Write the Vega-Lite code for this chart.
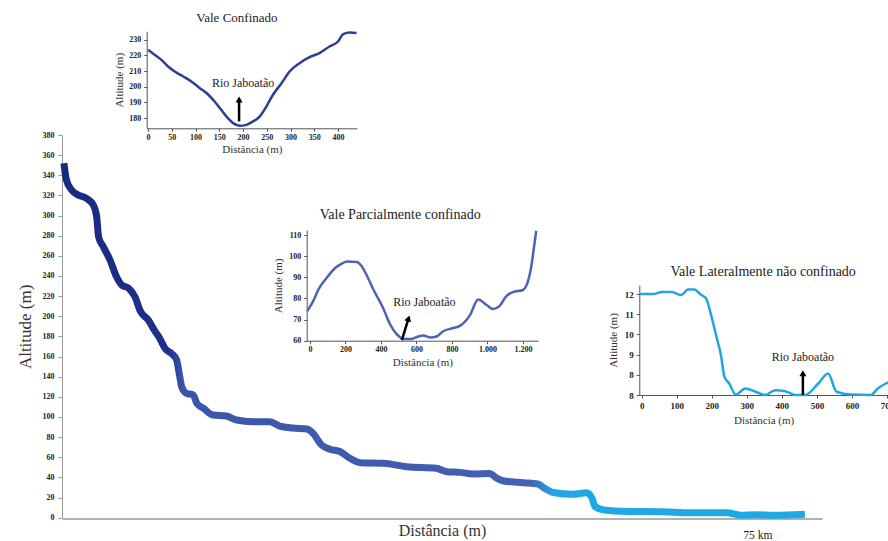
{
  "$schema": "https://vega.github.io/schema/vega-lite/v6.json",
  "width": 888,
  "height": 541,
  "autosize": {"type": "none"},
  "padding": 0,
  "background": "white",
  "config": {
    "view": {"stroke": null},
    "font": "Liberation Serif",
    "axis": {"grid": false, "labelOverlap": false, "labelFont": "Liberation Serif", "titleFont": "Liberation Serif", "labelFontWeight": "bold", "titleFontWeight": "normal", "labelColor": "#222", "titleColor": "#333"}
  },
  "datasets": {
    "perfil": [
      {"km": 0.2, "alt": 352}, {"km": 0.45, "alt": 336}, {"km": 1.0, "alt": 325.5}, {"km": 1.7, "alt": 320.5},
      {"km": 2.6, "alt": 317}, {"km": 3.3, "alt": 310.5}, {"km": 3.65, "alt": 299}, {"km": 3.85, "alt": 279},
      {"km": 4.35, "alt": 269}, {"km": 5.05, "alt": 256}, {"km": 5.75, "alt": 239}, {"km": 6.3, "alt": 231},
      {"km": 7.0, "alt": 228}, {"km": 7.7, "alt": 219}, {"km": 8.2, "alt": 206}, {"km": 9.1, "alt": 196},
      {"km": 9.8, "alt": 185}, {"km": 10.3, "alt": 178}, {"km": 10.85, "alt": 168}, {"km": 11.55, "alt": 163},
      {"km": 12.05, "alt": 157}, {"km": 12.4, "alt": 140}, {"km": 12.6, "alt": 130}, {"km": 13.1, "alt": 123.5},
      {"km": 13.8, "alt": 122}, {"km": 14.2, "alt": 113.5}, {"km": 14.9, "alt": 108.5}, {"km": 15.9, "alt": 102},
      {"km": 17.3, "alt": 101}, {"km": 18.4, "alt": 97}, {"km": 20.1, "alt": 95.3}, {"km": 21.9, "alt": 95.3},
      {"km": 22.9, "alt": 91}, {"km": 24.3, "alt": 89}, {"km": 25.8, "alt": 88}, {"km": 26.4, "alt": 84},
      {"km": 27.3, "alt": 72.5}, {"km": 28.2, "alt": 68}, {"km": 29.3, "alt": 65.5}, {"km": 30.3, "alt": 59},
      {"km": 31.4, "alt": 54.6}, {"km": 33.8, "alt": 54}, {"km": 36.3, "alt": 50.6}, {"km": 39.4, "alt": 49},
      {"km": 40.5, "alt": 45.7}, {"km": 41.9, "alt": 45}, {"km": 43.3, "alt": 43.4}, {"km": 45.0, "alt": 44},
      {"km": 45.8, "alt": 39}, {"km": 46.5, "alt": 36.4}, {"km": 48.6, "alt": 34.8}, {"km": 50.1, "alt": 33.5},
      {"km": 50.8, "alt": 29.2}, {"km": 51.7, "alt": 25}, {"km": 53.8, "alt": 23.2}, {"km": 55.2, "alt": 24.8},
      {"km": 55.8, "alt": 19.3}, {"km": 56.1, "alt": 11}, {"km": 57.0, "alt": 7.8}, {"km": 58.7, "alt": 6.5},
      {"km": 63.3, "alt": 6}, {"km": 66.1, "alt": 5}, {"km": 70.0, "alt": 5}, {"km": 71.4, "alt": 2.5},
      {"km": 73.1, "alt": 3}, {"km": 74.9, "alt": 2.5}, {"km": 78.2, "alt": 3.5}
    ],
    "confinado": [
      {"dist": 0, "alt": 223.6}, {"dist": 14, "alt": 220.4}, {"dist": 28, "alt": 217.2}, {"dist": 42, "alt": 213},
      {"dist": 56, "alt": 209.8}, {"dist": 74, "alt": 206.6}, {"dist": 91, "alt": 203.4}, {"dist": 109, "alt": 199.1},
      {"dist": 123, "alt": 196}, {"dist": 140, "alt": 190.6}, {"dist": 154, "alt": 185.3}, {"dist": 168, "alt": 180},
      {"dist": 179, "alt": 176.8}, {"dist": 193, "alt": 175.1}, {"dist": 207, "alt": 175.7}, {"dist": 221, "alt": 177.9},
      {"dist": 235, "alt": 181}, {"dist": 249, "alt": 187.4}, {"dist": 263, "alt": 194.9}, {"dist": 281, "alt": 202.3},
      {"dist": 298, "alt": 209.8}, {"dist": 319, "alt": 215.1}, {"dist": 340, "alt": 218.9}, {"dist": 361, "alt": 221.5},
      {"dist": 382, "alt": 225.7}, {"dist": 400, "alt": 228.9}, {"dist": 411, "alt": 233.7}, {"dist": 425, "alt": 234.7},
      {"dist": 439, "alt": 234.3}
    ],
    "parcial": [
      {"dist": -15, "alt": 74}, {"dist": 20, "alt": 79}, {"dist": 50, "alt": 84.5}, {"dist": 97, "alt": 90},
      {"dist": 144, "alt": 94.5}, {"dist": 180, "alt": 96.5}, {"dist": 209, "alt": 97.5}, {"dist": 265, "alt": 97.3},
      {"dist": 290, "alt": 95.5}, {"dist": 320, "alt": 91}, {"dist": 359, "alt": 84}, {"dist": 415, "alt": 75},
      {"dist": 450, "alt": 68}, {"dist": 490, "alt": 63}, {"dist": 530, "alt": 60.8}, {"dist": 570, "alt": 60.8},
      {"dist": 610, "alt": 62}, {"dist": 640, "alt": 62.5}, {"dist": 677, "alt": 61.5}, {"dist": 714, "alt": 62},
      {"dist": 751, "alt": 64.5}, {"dist": 807, "alt": 66}, {"dist": 845, "alt": 67}, {"dist": 901, "alt": 72},
      {"dist": 948, "alt": 79.5}, {"dist": 994, "alt": 77}, {"dist": 1032, "alt": 75}, {"dist": 1069, "alt": 76.5},
      {"dist": 1106, "alt": 81}, {"dist": 1144, "alt": 83}, {"dist": 1200, "alt": 84}, {"dist": 1219, "alt": 86},
      {"dist": 1247, "alt": 95}, {"dist": 1262, "alt": 104}, {"dist": 1275, "alt": 112}
    ],
    "lateral": [
      {"dist": -5, "alt": 12}, {"dist": 33, "alt": 12}, {"dist": 57, "alt": 12.1}, {"dist": 85, "alt": 12.1},
      {"dist": 113, "alt": 11.95}, {"dist": 132, "alt": 12.23}, {"dist": 150, "alt": 12.23}, {"dist": 170, "alt": 11.95},
      {"dist": 183, "alt": 11.8}, {"dist": 198, "alt": 10.96}, {"dist": 212, "alt": 9.97}, {"dist": 226, "alt": 8.98},
      {"dist": 236, "alt": 7.9}, {"dist": 250, "alt": 7.57}, {"dist": 268, "alt": 7.02}, {"dist": 296, "alt": 7.32},
      {"dist": 325, "alt": 7.16}, {"dist": 353, "alt": 7.0}, {"dist": 381, "alt": 7.24}, {"dist": 410, "alt": 7.19},
      {"dist": 438, "alt": 7.0}, {"dist": 466, "alt": 7.0}, {"dist": 504, "alt": 7.57}, {"dist": 532, "alt": 8.07},
      {"dist": 556, "alt": 7.16}, {"dist": 598, "alt": 7.02}, {"dist": 654, "alt": 7.0}, {"dist": 674, "alt": 7.32},
      {"dist": 697, "alt": 7.57}, {"dist": 703, "alt": 7.62}
    ],
    "setas": [
      {"painel": "confinado", "dist": 191.6, "alt": 177.9, "dist2": 191.6, "alt2": 191.9},
      {"painel": "parcial", "dist": 518, "alt": 60.3, "dist2": 555.8, "alt2": 70.6},
      {"painel": "lateral", "dist": 460, "alt": 7.0, "dist2": 460, "alt2": 8.08}
    ],
    "rotulos": [
      {"painel": "confinado", "tipo": "titulo", "dist": 187, "alt": 243.9, "texto": "Vale Confinado"},
      {"painel": "confinado", "tipo": "rio", "dist": 200, "alt": 202.3, "texto": "Rio Jaboatão"},
      {"painel": "parcial", "tipo": "titulo", "dist": 508.7, "alt": 119.5, "texto": "Vale Parcialmente confinado"},
      {"painel": "parcial", "tipo": "rio", "dist": 645, "alt": 78.5, "texto": "Rio Jaboatão"},
      {"painel": "lateral", "tipo": "titulo", "dist": 346.6, "alt": 13.1, "texto": "Vale Lateralmente não confinado"},
      {"painel": "lateral", "tipo": "rio", "dist": 460, "alt": 8.9, "texto": "Rio Jaboatão"}
    ]
  },
  "layer": [
    {
      "data": {"name": "perfil"},
      "mark": {
        "type": "line", "interpolate": "monotone", "strokeWidth": 7, "strokeCap": "butt", "strokeJoin": "round",
        "stroke": {"gradient": "linear", "x1": 0, "y1": 0, "x2": 1, "y2": 0, "stops": [
          {"offset": 0, "color": "#1a2a80"}, {"offset": 0.14, "color": "#1f2f8c"},
          {"offset": 0.16, "color": "#3a55aa"}, {"offset": 0.63, "color": "#4561b1"},
          {"offset": 0.66, "color": "#1ea8e4"}, {"offset": 1, "color": "#1ea8e4"}]}
      },
      "encoding": {
        "x": {"field": "km", "type": "quantitative",
          "scale": {"domain": [0, 80], "range": [62, 822], "nice": false, "zero": false},
          "axis": {"orient": "bottom", "offset": -22.5, "values": [73.2], "labelExpr": "'75 km'", "labelFontWeight": "normal", "labelFontSize": 11.5, "labelPadding": 11, "ticks": false, "title": "Distância (m)", "titleFontSize": 16, "titleY": 3.5, "domainColor": "#999", "domainWidth": 1.5}},
        "y": {"field": "alt", "type": "quantitative",
          "scale": {"domain": [0, 380], "range": [517.7, 135], "nice": false, "zero": false},
          "axis": {"orient": "left", "offset": -62, "values": [0, 20, 40, 60, 80, 100, 120, 140, 160, 180, 200, 220, 240, 260, 280, 300, 320, 340, 360, 380],
            "labelOverlap": false, "labelSeparation": -20, "format": "d", "title": "Altitude (m)", "titleFontSize": 17, "titlePadding": 8, "labelFontSize": 8, "tickSize": 4, "labelPadding": 4, "domainColor": "#999", "tickColor": "#999"}}
      }
    },
    {
      "layer": [
        {
          "data": {"name": "confinado"},
          "mark": {"type": "line", "interpolate": "monotone", "strokeWidth": 2.5, "color": "#2d3f94"},
          "encoding": {
            "x": {"field": "dist", "type": "quantitative",
              "scale": {"domain": [-3, 440], "range": [146.7, 357], "nice": false, "zero": false},
              "axis": {"orient": "bottom", "offset": -412.7, "values": [0, 50, 100, 150, 200, 250, 300, 350, 400], "labelOverlap": false, "format": "d", "title": "Distância (m)", "titleFontSize": 11, "titlePadding": 2, "labelFontSize": 8, "labelPadding": 2, "tickSize": 3, "domainColor": "#555", "tickColor": "#555"}},
            "y": {"field": "alt", "type": "quantitative",
              "scale": {"domain": [173.5, 235.5], "range": [128.3, 31.2], "nice": false, "zero": false},
              "axis": {"orient": "left", "offset": -146.7, "values": [180, 190, 200, 210, 220, 230], "labelOverlap": false, "format": "d", "title": "Altitude (m)", "titleFontSize": 11, "titlePadding": 4, "labelFontSize": 8, "labelPadding": 3, "tickSize": 3, "domainColor": "#555", "tickColor": "#555"}}
          }
        },
        {
          "data": {"name": "setas"},
          "transform": [{"filter": "datum.painel == 'confinado'"}],
          "mark": {"type": "rule", "strokeWidth": 2.5, "color": "black"},
          "encoding": {
            "x": {"field": "dist", "type": "quantitative"}, "x2": {"field": "dist2"},
            "y": {"field": "alt", "type": "quantitative"}, "y2": {"field": "alt2"}
          }
        },
        {
          "data": {"name": "setas"},
          "transform": [{"filter": "datum.painel == 'confinado'"}],
          "mark": {"type": "point", "shape": "triangle-up", "filled": true, "size": 50, "color": "black", "opacity": 1},
          "encoding": {
            "x": {"field": "dist2", "type": "quantitative"},
            "y": {"field": "alt2", "type": "quantitative"}
          }
        },
        {
          "data": {"name": "rotulos"},
          "transform": [{"filter": "datum.painel == 'confinado' && datum.tipo == 'titulo'"}],
          "mark": {"type": "text", "font": "Liberation Serif", "fontSize": 13, "color": "#222"},
          "encoding": {
            "x": {"field": "dist", "type": "quantitative"},
            "y": {"field": "alt", "type": "quantitative"},
            "text": {"field": "texto"}
          }
        },
        {
          "data": {"name": "rotulos"},
          "transform": [{"filter": "datum.painel == 'confinado' && datum.tipo == 'rio'"}],
          "mark": {"type": "text", "font": "Liberation Serif", "fontSize": 12, "color": "#222"},
          "encoding": {
            "x": {"field": "dist", "type": "quantitative"},
            "y": {"field": "alt", "type": "quantitative"},
            "text": {"field": "texto"}
          }
        }
      ]
    },
    {
      "layer": [
        {
          "data": {"name": "parcial"},
          "mark": {"type": "line", "interpolate": "monotone", "strokeWidth": 2.5, "color": "#4b64b4"},
          "encoding": {
            "x": {"field": "dist", "type": "quantitative",
              "scale": {"domain": [-18, 1285], "range": [306.7, 538], "nice": false, "zero": false},
              "axis": {"orient": "bottom", "offset": -200.3, "values": [0, 200, 400, 600, 800, 1000, 1200], "labelOverlap": false, "labelExpr": "replace(format(datum.value, ','), ',', '.')", "title": "Distância (m)", "titleFontSize": 11, "titlePadding": 3, "labelFontSize": 8, "labelPadding": 2, "tickSize": 3, "domainColor": "#555", "tickColor": "#555"}},
            "y": {"field": "alt", "type": "quantitative",
              "scale": {"domain": [60, 112.4], "range": [340.7, 230], "nice": false, "zero": false},
              "axis": {"orient": "left", "offset": -306.7, "values": [60, 70, 80, 90, 100, 110], "labelOverlap": false, "format": "d", "title": "Altitude (m)", "titleFontSize": 11, "titlePadding": 5, "labelFontSize": 8, "labelPadding": 3, "tickSize": 3, "domainColor": "#555", "tickColor": "#555"}}
          }
        },
        {
          "data": {"name": "setas"},
          "transform": [{"filter": "datum.painel == 'parcial'"}],
          "mark": {"type": "rule", "strokeWidth": 2.5, "color": "black"},
          "encoding": {
            "x": {"field": "dist", "type": "quantitative"}, "x2": {"field": "dist2"},
            "y": {"field": "alt", "type": "quantitative"}, "y2": {"field": "alt2"}
          }
        },
        {
          "data": {"name": "setas"},
          "transform": [{"filter": "datum.painel == 'parcial'"}],
          "mark": {"type": "point", "shape": "triangle-up", "filled": true, "size": 50, "angle": 17, "color": "black", "opacity": 1},
          "encoding": {
            "x": {"field": "dist2", "type": "quantitative"},
            "y": {"field": "alt2", "type": "quantitative"}
          }
        },
        {
          "data": {"name": "rotulos"},
          "transform": [{"filter": "datum.painel == 'parcial' && datum.tipo == 'titulo'"}],
          "mark": {"type": "text", "font": "Liberation Serif", "fontSize": 14, "color": "#222"},
          "encoding": {
            "x": {"field": "dist", "type": "quantitative"},
            "y": {"field": "alt", "type": "quantitative"},
            "text": {"field": "texto"}
          }
        },
        {
          "data": {"name": "rotulos"},
          "transform": [{"filter": "datum.painel == 'parcial' && datum.tipo == 'rio'"}],
          "mark": {"type": "text", "font": "Liberation Serif", "fontSize": 12, "color": "#222"},
          "encoding": {
            "x": {"field": "dist", "type": "quantitative"},
            "y": {"field": "alt", "type": "quantitative"},
            "text": {"field": "texto"}
          }
        }
      ]
    },
    {
      "layer": [
        {
          "data": {"name": "lateral"},
          "mark": {"type": "line", "interpolate": "monotone", "strokeWidth": 2.5, "color": "#1fa6e0"},
          "encoding": {
            "x": {"field": "dist", "type": "quantitative",
              "scale": {"domain": [-7, 703], "range": [639.3, 888], "nice": false, "zero": false},
              "axis": {"orient": "bottom", "offset": -146, "values": [0, 100, 200, 300, 400, 500, 600, 700], "labelOverlap": false, "format": "d", "title": "Distância (m)", "titleFontSize": 11, "titlePadding": 4, "labelFontSize": 9, "labelPadding": 3, "tickSize": 3, "domainColor": "#555", "tickColor": "#555"}},
            "y": {"field": "alt", "type": "quantitative",
              "scale": {"domain": [7, 12.45], "range": [395, 285], "nice": false, "zero": false},
              "axis": {"orient": "left", "offset": -639.3, "values": [7, 8, 9, 10, 11, 12], "labelOverlap": false, "labelExpr": "datum.value == 7 ? '8' : format(datum.value, 'd')", "title": "Altitude (m)", "titleFontSize": 11, "titlePadding": 6, "labelFontSize": 9, "labelPadding": 3, "tickSize": 3, "domainColor": "#555", "tickColor": "#555"}}
          }
        },
        {
          "data": {"name": "setas"},
          "transform": [{"filter": "datum.painel == 'lateral'"}],
          "mark": {"type": "rule", "strokeWidth": 2.5, "color": "black"},
          "encoding": {
            "x": {"field": "dist", "type": "quantitative"}, "x2": {"field": "dist2"},
            "y": {"field": "alt", "type": "quantitative"}, "y2": {"field": "alt2"}
          }
        },
        {
          "data": {"name": "setas"},
          "transform": [{"filter": "datum.painel == 'lateral'"}],
          "mark": {"type": "point", "shape": "triangle-up", "filled": true, "size": 50, "color": "black", "opacity": 1},
          "encoding": {
            "x": {"field": "dist2", "type": "quantitative"},
            "y": {"field": "alt2", "type": "quantitative"}
          }
        },
        {
          "data": {"name": "rotulos"},
          "transform": [{"filter": "datum.painel == 'lateral' && datum.tipo == 'titulo'"}],
          "mark": {"type": "text", "font": "Liberation Serif", "fontSize": 14, "color": "#222"},
          "encoding": {
            "x": {"field": "dist", "type": "quantitative"},
            "y": {"field": "alt", "type": "quantitative"},
            "text": {"field": "texto"}
          }
        },
        {
          "data": {"name": "rotulos"},
          "transform": [{"filter": "datum.painel == 'lateral' && datum.tipo == 'rio'"}],
          "mark": {"type": "text", "font": "Liberation Serif", "fontSize": 12, "color": "#222"},
          "encoding": {
            "x": {"field": "dist", "type": "quantitative"},
            "y": {"field": "alt", "type": "quantitative"},
            "text": {"field": "texto"}
          }
        }
      ]
    }
  ],
  "resolve": {"scale": {"x": "independent", "y": "independent"}, "axis": {"x": "independent", "y": "independent"}}
}
